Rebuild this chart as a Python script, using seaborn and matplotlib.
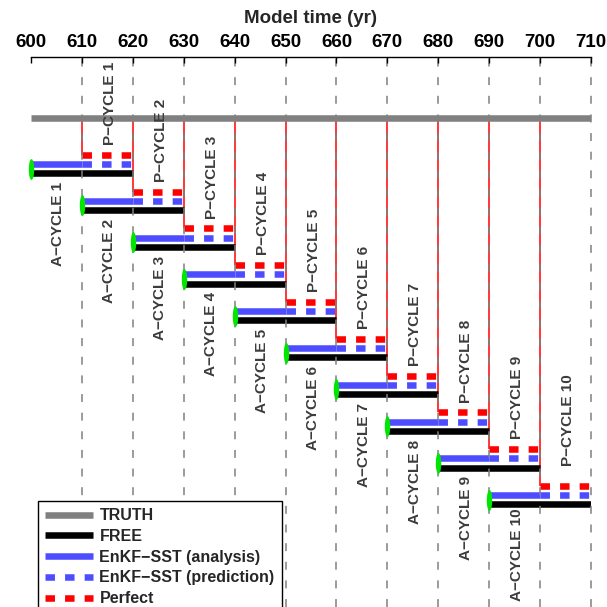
import numpy as np
import pandas as pd
import matplotlib
matplotlib.use("Agg")
import matplotlib.pyplot as plt
from matplotlib.path import Path
from matplotlib.lines import Line2D
import seaborn as sns

# ---------------- data ----------------
cycles = [1, 2, 3, 4, 5, 6, 7, 8, 9, 10]
analysis_start = [600, 610, 620, 630, 640, 650, 660, 670, 680, 690]
analysis_end = [610, 620, 630, 640, 650, 660, 670, 680, 690, 700]
prediction_end = [620, 630, 640, 650, 660, 670, 680, 690, 700, 710]
truth_x = [600, 710]
xticks = [600, 610, 620, 630, 640, 650, 660, 670, 680, 690, 700, 710]
a_labels = [f"A\u2212CYCLE {c}" for c in cycles]
p_labels = [f"P\u2212CYCLE {c}" for c in cycles]

# ---------------- style ----------------
sns.set_theme(style="white")
plt.rcParams["font.family"] = ["Liberation Sans", "DejaVu Sans"]
plt.rcParams["font.weight"] = "bold"

C_TRUTH = "#808080"
C_FREE = "#000000"
C_BLUE = "#4d4dff"
C_RED = "#ff0000"
C_GREEN = "#00e600"
C_TEXT = "#3c3c3c"
LW = 4.7
DASH = (0, (1.45, 1.55))

OFF_RED, OFF_BLUE, OFF_BLACK = 0.0, 0.25, 0.5

fig = plt.figure(figsize=(6.07, 6.07), dpi=100)
ax = fig.add_axes([31 / 607, 0.0, 560 / 607, 550 / 607])

# build tidy frame of segments
rows = []
for c, s, e, p in zip(cycles, analysis_start, analysis_end, prediction_end):
    rows += [dict(series="FREE", cycle=c, x=s, y=c + OFF_BLACK),
             dict(series="FREE", cycle=c, x=p, y=c + OFF_BLACK),
             dict(series="ANA", cycle=c, x=s, y=c + OFF_BLUE),
             dict(series="ANA", cycle=c, x=e, y=c + OFF_BLUE),
             dict(series="PRED", cycle=c, x=e, y=c + OFF_BLUE),
             dict(series="PRED", cycle=c, x=p, y=c + OFF_BLUE),
             dict(series="PERF", cycle=c, x=e, y=c + OFF_RED),
             dict(series="PERF", cycle=c, x=p, y=c + OFF_RED)]
df = pd.DataFrame(rows)

# red connectors from truth to perfect rows
ax.vlines(analysis_end, 0, [c + OFF_RED for c in cycles], color=C_RED,
          linewidth=1.1, zorder=1.8)

common = dict(x="x", y="y", units="cycle", estimator=None, ax=ax,
              legend=False, sort=False)
sns.lineplot(data=df[df.series == "FREE"], color=C_FREE, linewidth=LW,
             solid_capstyle="butt", zorder=2, **common)
sns.lineplot(data=df[df.series == "ANA"], color=C_BLUE, linewidth=LW,
             solid_capstyle="butt", zorder=2, **common)
sns.lineplot(data=df[df.series == "PRED"], color=C_BLUE, linewidth=LW,
             linestyle=DASH, dash_capstyle="butt", zorder=2, **common)
sns.lineplot(data=df[df.series == "PERF"], color=C_RED, linewidth=LW,
             linestyle=DASH, dash_capstyle="butt", zorder=2, **common)
sns.lineplot(x=truth_x, y=[0, 0], color=C_TRUTH, linewidth=LW,
             solid_capstyle="butt", ax=ax, zorder=2.2, legend=False)

# green start markers
th = np.linspace(0, 2 * np.pi, 60)
ell = Path(np.column_stack([0.26 * np.cos(th), np.sin(th)]))
ax.scatter(analysis_start, [c + (OFF_BLUE + OFF_BLACK) / 2 for c in cycles],
           marker=ell, s=15 ** 2, color=C_GREEN, linewidths=0, zorder=4,
           clip_on=False)

# labels
p_yoff = [-1.40] * 9 + [-1.79]
for c, s, al, pl, py in zip(cycles, analysis_start, a_labels, p_labels, p_yoff):
    ax.text(s + 5.4, c + 1.88, al, rotation=90, ha="center", va="center",
            fontsize=11, color=C_TEXT, fontweight="bold", zorder=5)
    ax.text(s + 15.5, c + py, pl, rotation=90, ha="center", va="center",
            fontsize=11, color=C_TEXT, fontweight="bold", zorder=5)

# axes
ax.set_xlim(600, 710)
ax.set_ylim(13.29, -1.66)
ax.set_xticks(xticks)
ax.set_yticks([])
ax.set_ylabel("")
ax.xaxis.tick_top()
ax.xaxis.set_label_position("top")
ax.set_xlabel("Model time (yr)", fontsize=13.5, fontweight="bold", labelpad=8)
ax.tick_params(axis="x", top=True, bottom=False, direction="in", length=4,
               width=1, colors="black", labelsize=13.5, pad=4)
for lab in ax.get_xticklabels():
    lab.set_fontweight("bold")
for side in ["left", "right", "bottom"]:
    ax.spines[side].set_visible(False)
ax.spines["top"].set_color("black")
ax.spines["top"].set_linewidth(1)

ax.set_axisbelow(False)
ax.grid(axis="x", color="#808080", linestyle=(0, (5.2, 7.0)), linewidth=1.1)
ax.grid(axis="y", visible=False)
gls = ax.xaxis.get_gridlines()
gls[0].set_visible(False)
for g in gls:
    g.set_clip_on(False)

# legend
handles = [
    Line2D([], [], color=C_TRUTH, linewidth=LW, solid_capstyle="butt"),
    Line2D([], [], color=C_FREE, linewidth=LW, solid_capstyle="butt"),
    Line2D([], [], color=C_BLUE, linewidth=LW, solid_capstyle="butt"),
    Line2D([], [], color=C_BLUE, linewidth=LW, linestyle=DASH, dash_capstyle="butt"),
    Line2D([], [], color=C_RED, linewidth=LW, linestyle=DASH, dash_capstyle="butt"),
]
labels = ["TRUTH", "FREE", "EnKF\u2212SST (analysis)", "EnKF\u2212SST (prediction)", "Perfect"]
leg = fig.legend(handles, labels, loc="upper left",
                 bbox_to_anchor=(38 / 607, 1 - 501 / 607), borderaxespad=0,
                 fancybox=False, frameon=True, framealpha=1, edgecolor="black",
                 prop=dict(size=11.5, weight="bold"), handlelength=3.0,
                 handletextpad=0.4, labelspacing=0.36, borderpad=0.45)
leg.get_frame().set_linewidth(1.0)
leg.set_zorder(10)

fig.savefig("out.png", dpi=100)
